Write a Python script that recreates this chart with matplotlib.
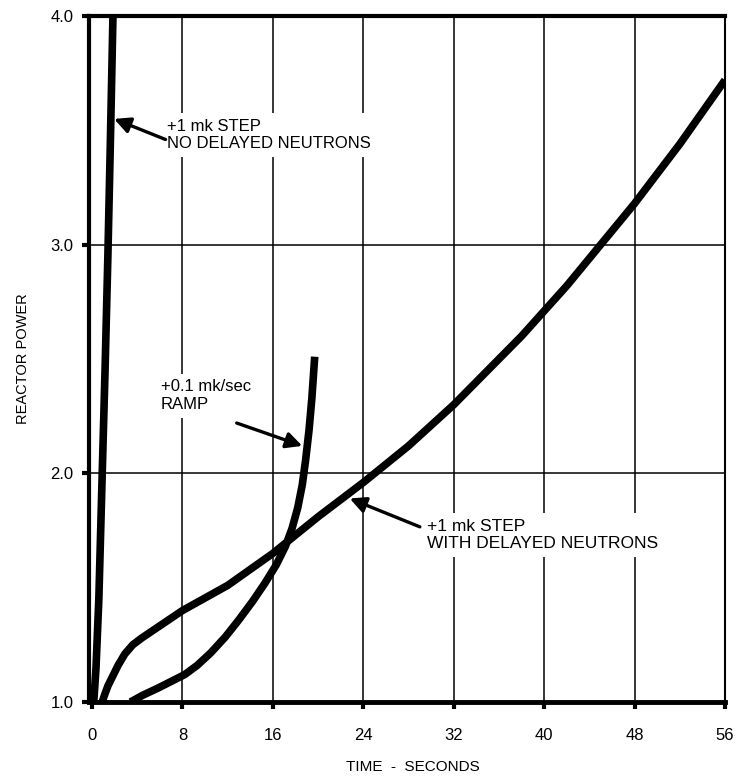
import matplotlib
matplotlib.use('Agg')
import matplotlib.pyplot as plt

plt.rcParams['font.family'] = ['Liberation Sans', 'DejaVu Sans']

# +1 mk step, no delayed neutrons
t_prompt = [0.15, 0.35, 0.6, 0.9, 1.15, 1.4, 1.6, 1.85]
p_prompt = [1.0, 1.15, 1.45, 2.0, 2.45, 2.95, 3.4, 4.0]

# +1 mk step, with delayed neutrons
t_delay = [0.9, 1.1, 1.4, 1.8, 2.3, 2.9, 3.6, 4.4, 5.3, 6.5, 8.0, 10, 12, 14, 16, 18, 20,
           22, 24, 26, 28, 30, 32, 34, 36, 38, 40, 42, 44, 46, 48, 50, 52, 54, 56]
p_delay = [1.0, 1.03, 1.07, 1.11, 1.16, 1.21, 1.25, 1.28, 1.31, 1.35, 1.40, 1.455, 1.51, 1.58,
           1.65, 1.73, 1.81, 1.885, 1.96, 2.04, 2.12, 2.21, 2.30, 2.40, 2.50, 2.60, 2.71,
           2.82, 2.94, 3.06, 3.18, 3.31, 3.44, 3.58, 3.72]

# +0.1 mk/sec ramp
t_ramp = [3.4, 4.5, 5.8, 7.0, 8.2, 9.3, 10.5, 11.8, 13.0, 14.2, 15.3, 16.3, 17.1, 17.7,
          18.2, 18.6, 18.9, 19.2, 19.45, 19.7]
p_ramp = [1.0, 1.03, 1.06, 1.09, 1.12, 1.16, 1.215, 1.285, 1.36, 1.44, 1.52, 1.60, 1.68, 1.76,
          1.85, 1.95, 2.06, 2.19, 2.33, 2.51]

x_ticks = [0, 8, 16, 24, 32, 40, 48, 56]
y_ticks = [1.0, 2.0, 3.0, 4.0]

fig = plt.figure(figsize=(7.36, 7.83), dpi=100)
ax = fig.add_axes([89 / 736, 1 - 702 / 783, (725 - 89) / 736, (702 - 16) / 783])

ax.set_xlim(-0.27, 56)
ax.set_ylim(1.0, 4.0)

# grid
for x in x_ticks[1:-1]:
    ax.axvline(x, color='k', lw=1.1, zorder=1)
for y in [2.0, 3.0]:
    ax.axhline(y, color='k', lw=1.1, zorder=1)

lw = 5.5
ax.plot(t_prompt, p_prompt, color='k', lw=lw, solid_capstyle='butt', solid_joinstyle='round', zorder=3)
ax.plot(t_delay, p_delay, color='k', lw=lw, solid_capstyle='butt', solid_joinstyle='round', zorder=3)
ax.plot(t_ramp, p_ramp, color='k', lw=lw, solid_capstyle='butt', solid_joinstyle='round', zorder=3)

ax.spines['left'].set_linewidth(3.0)
ax.spines['bottom'].set_linewidth(3.5)
ax.spines['top'].set_linewidth(3.0)
ax.spines['right'].set_linewidth(1.5)

ax.set_xticks(x_ticks)
ax.set_xticklabels([str(v) for v in x_ticks])
ax.set_yticks(y_ticks)
ax.set_yticklabels(['%.1f' % v for v in y_ticks])
ax.tick_params(axis='both', direction='out', length=5, width=3, labelsize=12, color='k')
ax.tick_params(axis='x', pad=14)
ax.tick_params(axis='y', pad=6)

ax.set_ylabel('REACTOR POWER', fontsize=10.5, va='center')
ax.yaxis.set_label_coords((23 - 89) / 636, 0.5)
ax.set_xlabel('TIME  -  SECONDS', fontsize=11, va='center')
ax.xaxis.set_label_coords(0.51, (702 - 767) / 686)

box = dict(boxstyle='square,pad=0.35', fc='white', ec='none')
arrow = dict(arrowstyle='-|>', lw=2.4, color='k', mutation_scale=24, shrinkA=0, shrinkB=0)

ax.annotate('', xy=(1.95, 3.55), xytext=(6.5, 3.46), arrowprops=arrow, zorder=4)
ax.text(6.6, 3.48, '+1 mk STEP\nNO DELAYED NEUTRONS', fontsize=12, va='center', ha='left',
        linespacing=1.2, bbox=box, zorder=2)

ax.annotate('', xy=(18.6, 2.12), xytext=(12.8, 2.22), arrowprops=arrow, zorder=4)
ax.text(6.1, 2.34, '+0.1 mk/sec\nRAMP', fontsize=12, va='center', ha='left',
        linespacing=1.2, bbox=box, zorder=2)

ax.annotate('', xy=(22.8, 1.89), xytext=(29.0, 1.766), arrowprops=arrow, zorder=4)
ax.text(29.6, 1.73, '+1 mk STEP\nWITH DELAYED NEUTRONS', fontsize=12.5, va='center', ha='left',
        linespacing=1.2, bbox=box, zorder=2)

plt.savefig('out.png', dpi=100)
